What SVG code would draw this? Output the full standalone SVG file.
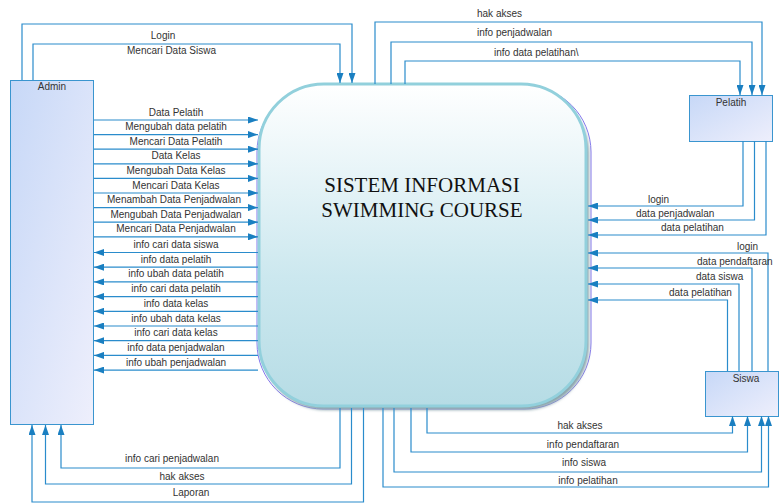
<svg xmlns="http://www.w3.org/2000/svg" width="779" height="504" viewBox="0 0 779 504">
  <defs>
    <linearGradient id="entityFill" x1="0" y1="0" x2="1" y2="1">
      <stop offset="0" stop-color="#c7d8f7"/>
      <stop offset="1" stop-color="#eeeffc"/>
    </linearGradient>
    <linearGradient id="processFill" x1="0" y1="0" x2="0" y2="1">
      <stop offset="0" stop-color="#ffffff"/>
      <stop offset="0.6" stop-color="#cce8ef"/>
      <stop offset="1" stop-color="#b6dce5"/>
    </linearGradient>
    <filter id="soft" x="-10%" y="-10%" width="120%" height="120%">
      <feGaussianBlur stdDeviation="1.5"/>
    </filter>
    <marker id="arrow" viewBox="0 0 10 7" refX="10" refY="3.5" markerWidth="10" markerHeight="7" markerUnits="userSpaceOnUse" orient="auto">
      <path d="M0,0 L10,3.5 L0,7 z" fill="#1a7fc1"/>
    </marker>
  </defs>
  <style>
    .entity { fill: url(#entityFill); stroke: #3a95cf; stroke-width: 1; }
    .label { font-family: "Liberation Sans", Arial, sans-serif; font-size: 10px; fill: #333333; }
    .mid { text-anchor: middle; }
    .flow { fill: none; stroke: #2a8ccc; stroke-width: 1.2; marker-end: url(#arrow); }
    .title { font-family: "Liberation Serif", "Times New Roman", serif; font-size: 21px; fill: #111111; text-anchor: middle; }
  </style>

  <rect width="779" height="504" fill="#ffffff"/>

  <!-- external entity: Admin -->
  <g id="admin">
    <rect class="entity" x="10.5" y="80.5" width="83" height="344"/>
    <text class="label mid" x="52" y="90">Admin</text>
  </g>

  <!-- external entity: Pelatih -->
  <g id="pelatih">
    <rect class="entity" x="689.5" y="95.5" width="83" height="46"/>
    <text class="label mid" x="731" y="106">Pelatih</text>
  </g>

  <!-- external entity: Siswa -->
  <g id="siswa">
    <rect class="entity" x="705.5" y="371.5" width="73" height="45"/>
    <text class="label mid" x="746" y="382">Siswa</text>
  </g>

  <!-- central process -->
  <g id="process">
    <rect x="257" y="86" width="334" height="323" rx="66" fill="none" stroke="#8577ee" stroke-width="1"/>
    <rect x="261" y="89" width="328" height="321" rx="65" fill="#8ba6ae" filter="url(#soft)"/>
    <rect x="259" y="84" width="327" height="322" rx="65" fill="url(#processFill)" stroke="#92d0dc" stroke-width="3"/>
    <text class="title" x="422" y="192">SISTEM INFORMASI</text>
    <text class="title" x="422" y="217">SWIMMING COURSE</text>
  </g>

  <!-- data flows -->
  <g id="connectors">
    <!-- Admin -> process (top) -->
    <path class="flow" d="M22,80 V24 H352 V83"/>
    <path class="flow" d="M33,80 V44 H340 V83"/>

    <!-- Admin -> process (left side) -->
    <path class="flow" d="M94,120 H258"/>
    <path class="flow" d="M94,134.6 H258"/>
    <path class="flow" d="M94,149.2 H258"/>
    <path class="flow" d="M94,163.8 H258"/>
    <path class="flow" d="M94,178.4 H258"/>
    <path class="flow" d="M94,193 H258"/>
    <path class="flow" d="M94,207.6 H258"/>
    <path class="flow" d="M94,222.2 H258"/>
    <path class="flow" d="M94,236.8 H258"/>

    <!-- process -> Admin (left side) -->
    <path class="flow" d="M258,252.5 H94"/>
    <path class="flow" d="M258,267.2 H94"/>
    <path class="flow" d="M258,281.9 H94"/>
    <path class="flow" d="M258,296.6 H94"/>
    <path class="flow" d="M258,311.3 H94"/>
    <path class="flow" d="M258,326 H94"/>
    <path class="flow" d="M258,340.7 H94"/>
    <path class="flow" d="M258,355.4 H94"/>
    <path class="flow" d="M258,370.1 H94"/>

    <!-- process -> Admin (bottom) -->
    <path class="flow" d="M340,408 V468 H61 V425"/>
    <path class="flow" d="M351.5,408 V484 H45.5 V425"/>
    <path class="flow" d="M363.5,408 V502 H32 V425"/>

    <!-- process -> Pelatih -->
    <path class="flow" d="M375,84 V22 H762 V95"/>
    <path class="flow" d="M391,84 V42 H752 V95"/>
    <path class="flow" d="M405,84 V61 H740 V95"/>

    <!-- Pelatih -> process -->
    <path class="flow" d="M743,141 V206 H588"/>
    <path class="flow" d="M754.5,141 V220 H588"/>
    <path class="flow" d="M766,141 V235 H588"/>

    <!-- Siswa -> process -->
    <path class="flow" d="M768,371 V253 H588"/>
    <path class="flow" d="M752,371 V268 H588"/>
    <path class="flow" d="M739,371 V284 H588"/>
    <path class="flow" d="M727.5,371 V300 H588"/>

    <!-- process -> Siswa -->
    <path class="flow" d="M427,408 V433 H732.5 V416"/>
    <path class="flow" d="M411,408 V452 H747.5 V416"/>
    <path class="flow" d="M394,408 V472 H761.5 V416"/>
    <path class="flow" d="M383,408 V487 H768.5 V416"/>
  </g>

  <!-- flow labels -->
  <g id="labels">
    <text class="label mid" x="163" y="38.5">Login</text>
    <text class="label mid" x="171.5" y="54">Mencari Data Siswa</text>

    <text class="label mid" x="176" y="115.5">Data Pelatih</text>
    <text class="label mid" x="176" y="130.1">Mengubah data pelatih</text>
    <text class="label mid" x="176" y="144.7">Mencari Data Pelatih</text>
    <text class="label mid" x="176" y="159.3">Data Kelas</text>
    <text class="label mid" x="176" y="173.9">Mengubah Data Kelas</text>
    <text class="label mid" x="176" y="188.5">Mencari Data Kelas</text>
    <text class="label mid" x="174" y="203.1">Menambah Data Penjadwalan</text>
    <text class="label mid" x="176" y="217.7">Mengubah Data Penjadwalan</text>
    <text class="label mid" x="176" y="232.3">Mencari Data Penjadwalan</text>

    <text class="label mid" x="176" y="248">info cari data siswa</text>
    <text class="label mid" x="176" y="262.7">info data pelatih</text>
    <text class="label mid" x="176" y="277.4">info ubah data pelatih</text>
    <text class="label mid" x="176" y="292.1">info cari data pelatih</text>
    <text class="label mid" x="176" y="306.8">info data kelas</text>
    <text class="label mid" x="176" y="321.5">info ubah data kelas</text>
    <text class="label mid" x="176" y="336.2">info cari data kelas</text>
    <text class="label mid" x="176" y="350.9">info data penjadwalan</text>
    <text class="label mid" x="176" y="365.6">info ubah penjadwalan</text>

    <text class="label mid" x="172" y="462">info cari penjadwalan</text>
    <text class="label mid" x="182" y="479.5">hak akses</text>
    <text class="label mid" x="191" y="495.5">Laporan</text>

    <text class="label" x="477" y="16.5">hak akses</text>
    <text class="label" x="477" y="36">info penjadwalan</text>
    <text class="label" x="494" y="55.5">info data pelatihan\</text>

    <text class="label" x="648" y="203">login</text>
    <text class="label" x="636" y="216.5">data penjadwalan</text>
    <text class="label" x="661" y="231">data pelatihan</text>

    <text class="label" x="737" y="249.5">login</text>
    <text class="label" x="697" y="264.5">data pendaftaran</text>
    <text class="label" x="696" y="280">data siswa</text>
    <text class="label" x="669" y="296">data pelatihan</text>

    <text class="label mid" x="580" y="428.5">hak akses</text>
    <text class="label mid" x="583" y="447.5">info pendaftaran</text>
    <text class="label mid" x="584" y="465.5">info siswa</text>
    <text class="label mid" x="588" y="483.5">info pelatihan</text>
  </g>
</svg>
